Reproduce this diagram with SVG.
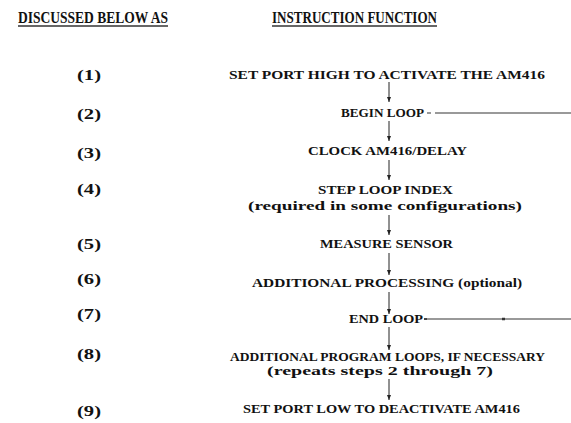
<svg xmlns="http://www.w3.org/2000/svg" width="571" height="423" viewBox="0 0 571 423">
<defs>
<style>
.hl{stroke:#666;stroke-width:2}
.c{stroke:#222;stroke-width:1;fill:none}
.g{stroke:#777;stroke-width:1.5;fill:none}
</style>
<marker id="a" viewBox="0 0 5 4" refX="5" refY="2" markerWidth="5" markerHeight="4" markerUnits="userSpaceOnUse" orient="auto">
<path d="M0,0 L5,2 L0,4 Z" fill="#222"/>
</marker>
</defs>
<rect width="571" height="423" fill="#fff"/>
<g font-family="'Liberation Serif', 'DejaVu Serif', serif" font-weight="bold" fill="#111">
<g id="headers" font-size="16">
<text x="18" y="23" textLength="150" lengthAdjust="spacingAndGlyphs">DISCUSSED BELOW AS</text>
<line class="hl" x1="18" y1="26" x2="168" y2="26"/>
<text x="272" y="23" textLength="165" lengthAdjust="spacingAndGlyphs">INSTRUCTION FUNCTION</text>
<line class="hl" x1="272" y1="26" x2="437" y2="26"/>
</g>
<g id="numbers" font-size="14">
<text x="77" y="80" textLength="24" lengthAdjust="spacingAndGlyphs">(1)</text>
<text x="77" y="119" textLength="24" lengthAdjust="spacingAndGlyphs">(2)</text>
<text x="77" y="158" textLength="24" lengthAdjust="spacingAndGlyphs">(3)</text>
<text x="77" y="194" textLength="24" lengthAdjust="spacingAndGlyphs">(4)</text>
<text x="77" y="249" textLength="24" lengthAdjust="spacingAndGlyphs">(5)</text>
<text x="77" y="284" textLength="24" lengthAdjust="spacingAndGlyphs">(6)</text>
<text x="77" y="319" textLength="24" lengthAdjust="spacingAndGlyphs">(7)</text>
<text x="77" y="359" textLength="24" lengthAdjust="spacingAndGlyphs">(8)</text>
<text x="77" y="416" textLength="24" lengthAdjust="spacingAndGlyphs">(9)</text>
</g>
<g font-size="13.5" text-anchor="middle">
<g id="step1"><text x="387" y="79" textLength="316" lengthAdjust="spacingAndGlyphs">SET PORT HIGH TO ACTIVATE THE AM416</text></g>
<g id="step2"><text x="382.5" y="117" textLength="83" lengthAdjust="spacingAndGlyphs">BEGIN LOOP</text></g>
<g id="step3"><text x="387.5" y="155" textLength="159" lengthAdjust="spacingAndGlyphs">CLOCK AM416/DELAY</text></g>
<g id="step4">
<text x="385.5" y="194" textLength="135" lengthAdjust="spacingAndGlyphs">STEP LOOP INDEX</text>
<text x="385" y="210" textLength="274" lengthAdjust="spacingAndGlyphs">(required in some configurations)</text>
</g>
<g id="step5"><text x="386.5" y="248" textLength="133" lengthAdjust="spacingAndGlyphs">MEASURE SENSOR</text></g>
<g id="step6"><text x="387" y="287" textLength="270" lengthAdjust="spacingAndGlyphs">ADDITIONAL PROCESSING (optional)</text></g>
<g id="step7"><text x="386" y="323" textLength="74" lengthAdjust="spacingAndGlyphs">END LOOP</text></g>
<g id="step8">
<text x="387.5" y="361" textLength="315" lengthAdjust="spacingAndGlyphs">ADDITIONAL PROGRAM LOOPS, IF NECESSARY</text>
<text x="380" y="375" textLength="226" lengthAdjust="spacingAndGlyphs">(repeats steps 2 through 7)</text>
</g>
<g id="step9"><text x="381.5" y="413" textLength="277" lengthAdjust="spacingAndGlyphs">SET PORT LOW TO DEACTIVATE AM416</text></g>
</g>
</g>
<g id="connectors">
<line class="c" x1="389" y1="82" x2="389" y2="102" marker-end="url(#a)"/>
<line class="c" x1="389" y1="121" x2="389" y2="141" marker-end="url(#a)"/>
<line class="c" x1="389" y1="160" x2="389" y2="180" marker-end="url(#a)"/>
<line class="c" x1="389" y1="215" x2="389" y2="235" marker-end="url(#a)"/>
<line class="c" x1="389" y1="253" x2="389" y2="275" marker-end="url(#a)"/>
<line class="c" x1="389" y1="292" x2="389" y2="314" marker-end="url(#a)"/>
<line class="c" x1="389" y1="327" x2="389" y2="350" marker-end="url(#a)"/>
<line class="c" x1="389" y1="379" x2="389" y2="400" marker-end="url(#a)"/>
<line class="g" x1="427" y1="113" x2="431" y2="113"/>
<line class="g" x1="435" y1="113" x2="571" y2="113"/>
<line class="g" x1="426" y1="319" x2="571" y2="319"/>
<line x1="424" y1="319" x2="427" y2="319" stroke="#444" stroke-width="2"/>
<line x1="502" y1="319" x2="505" y2="319" stroke="#333" stroke-width="2.5"/>
</g>
</svg>
